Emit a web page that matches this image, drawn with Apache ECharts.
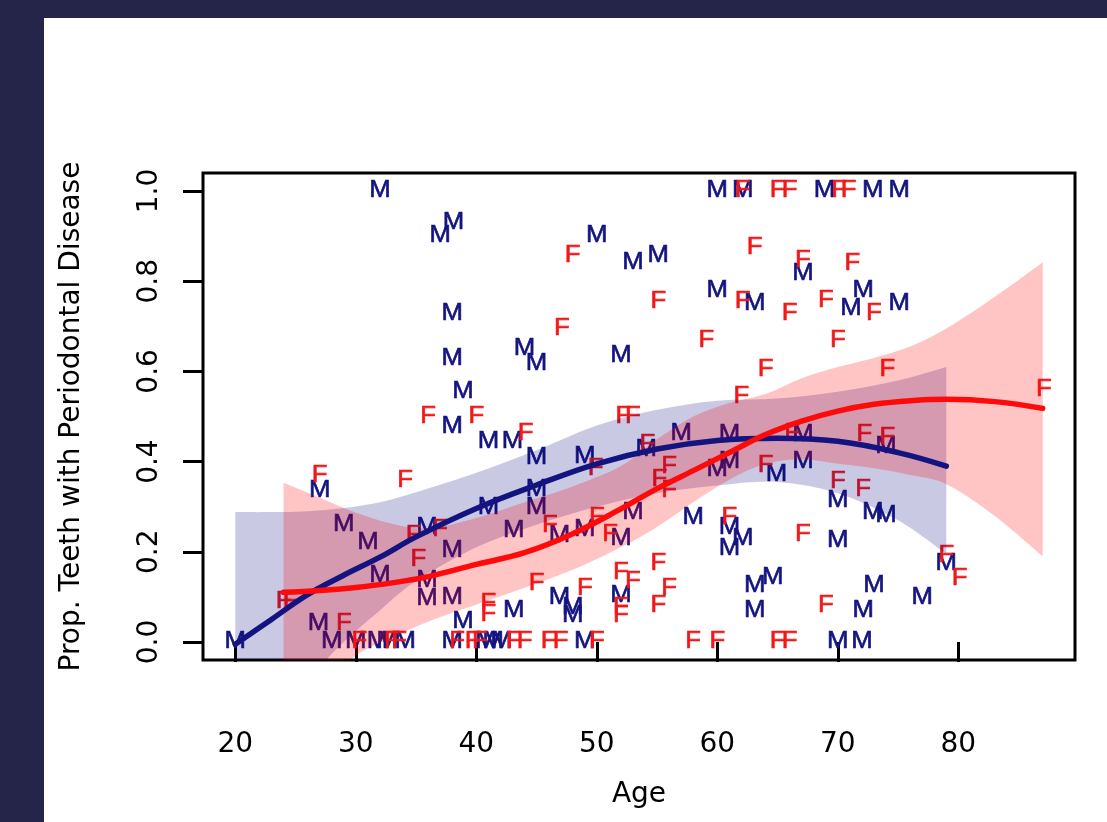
<!DOCTYPE html>
<html>
<head>
<meta charset="utf-8">
<title>Periodontal disease by age</title>
<script src="https://cdn.jsdelivr.net/npm/echarts@6/dist/echarts.min.js"></script>
<style>
  html, body { margin:0; padding:0; width:1107px; height:822px; overflow:hidden; background:#25254a; }
  #chart { position:absolute; left:44px; top:18px; width:1063px; height:804px; background:#fff; }
</style>
</head>
<body>
<div id="chart"></div>
<script>
(function(){
  'use strict';

  // tick labels
  var xTicks = [20, 30, 40, 50, 60, 70, 80];
  var yTicks = [0, 0.2, 0.4, 0.6, 0.8, 1.0];

  // observed proportions, males [age, prop]
  var maleObs = [
    [20,0],[28,0],[30,0],[31.8,0],[32.6,0],[34.1,0],[38,0],[40.8,0],[41.4,0],[42.1,0],[49,0],[70,0],[72,0],
    [32,1],[60,1],[62.1,1],[68.9,1],[72.9,1],[75.1,1],
    [38.1,0.93],[37,0.9],[50,0.9],[53,0.842],[55.1,0.857],
    [67.1,0.816],[60,0.779],[72.1,0.779],[63.1,0.75],[71.1,0.739],[75.1,0.75],
    [38,0.728],[44,0.651],[45,0.618],[38,0.629],[52,0.636],
    [38.9,0.555],[38,0.478],[41,0.445],[43,0.445],
    [57,0.463],[61,0.46],[67.1,0.46],[74,0.434],
    [45,0.408],[49,0.412],[54.1,0.426],[61,0.4],[60,0.382],[67.1,0.4],[64.9,0.371],
    [27,0.335],[41,0.298],[45,0.338],[45,0.298],[53,0.287],[58,0.276],[70,0.313],[72.9,0.287],[74,0.279],
    [29,0.261],[35.9,0.254],[31,0.221],[38,0.202],[43.1,0.246],[46.9,0.235],[49,0.25],[52,0.228],
    [61,0.254],[62.1,0.228],[61,0.206],[70,0.224],
    [32,0.147],[35.9,0.136],[35.9,0.096],[38,0.099],[26.9,0.04],[38.9,0.044],
    [43.1,0.07],[46.9,0.099],[48,0.077],[48,0.059],[52,0.103],
    [63.1,0.125],[63.1,0.07],[64.6,0.143],[73,0.125],[72.1,0.07],[77,0.099],[79,0.173]
  ];

  // observed proportions, females [age, prop]
  var femaleObs = [
    [30.3,0],[33,0],[33.6,0],[38.4,0],[39.7,0],[40.3,0],[43.1,0],[44,0],[46,0],[47,0],[50,0],[58,0],[60,0],[65,0],[66,0],
    [62.1,1],[65,1],[66,1],[70.1,1],[70.9,1],
    [48,0.857],[63.1,0.875],[67.1,0.846],[71.2,0.838],
    [55.1,0.754],[62.1,0.754],[69,0.757],[66,0.728],[73,0.728],
    [47.1,0.695],[59.1,0.669],[70,0.669],
    [64,0.603],[74.1,0.603],[87.1,0.559],[62,0.544],
    [36,0.5],[40,0.5],[52.2,0.5],[53,0.5],
    [44.1,0.463],[54.2,0.437],[66.2,0.463],[72.2,0.46],[74.1,0.454],
    [49.9,0.384],[56,0.388],[64,0.39],[55.2,0.36],[56,0.335],
    [27,0.368],[34.1,0.357],[70,0.355],[72.1,0.338],
    [50,0.276],[61,0.276],[37,0.25],[34.8,0.235],[46.1,0.257],[51.1,0.239],[67.1,0.239],
    [35.2,0.182],[79,0.191],[55.1,0.173],[52,0.154],[53,0.134],[80.1,0.14],
    [45,0.129],[49,0.118],[56,0.118],
    [24,0.09],[24.6,0.09],[41,0.085],[41,0.06],[52,0.077],[52,0.059],[55.1,0.081],[69,0.081],[29,0.04]
  ];

  // fitted curve and band, males
  var mAge   = [20, 23, 26, 29, 32, 35, 40, 45, 50, 55, 60, 65, 70, 75, 79];
  var mFit   = [-0.005, 0.05, 0.105, 0.148, 0.188, 0.233, 0.296, 0.348, 0.395, 0.428, 0.447, 0.452, 0.445, 0.42, 0.39];
  var mUpper = [0.288, 0.288, 0.29, 0.297, 0.31, 0.332, 0.375, 0.425, 0.48, 0.515, 0.535, 0.54, 0.555, 0.58, 0.61];
  var mLower = [-0.3, -0.19, -0.085, 0.0, 0.07, 0.135, 0.21, 0.26, 0.3, 0.33, 0.347, 0.355, 0.33, 0.27, 0.195];

  // fitted curve and band, females
  var fAge   = [24, 27, 30, 33, 36, 40, 44, 48, 52, 55, 58, 61, 64, 67, 70, 73, 76, 79, 83, 87];
  var fFit   = [0.11, 0.114, 0.121, 0.131, 0.145, 0.172, 0.198, 0.24, 0.295, 0.34, 0.38, 0.42, 0.46, 0.49, 0.512, 0.527, 0.535, 0.538, 0.533, 0.518];
  var fUpper = [0.353, 0.32, 0.287, 0.262, 0.252, 0.275, 0.31, 0.345, 0.39, 0.45, 0.5, 0.53, 0.55, 0.585, 0.61, 0.63, 0.655, 0.695, 0.765, 0.842];
  var fLower = [-0.2, -0.1, -0.03, 0.01, 0.045, 0.083, 0.12, 0.16, 0.21, 0.255, 0.31, 0.36, 0.395, 0.405, 0.395, 0.385, 0.37, 0.35, 0.28, 0.19];

  var NAVY = '#141480', RED = '#f01818';
  var AXIS_FONT = '"DejaVu Sans", sans-serif';

  function pairs(xs, ys){ return xs.map(function(x, i){ return [x, ys[i]]; }); }

  // catmull-rom through screen points, as cubic segments
  function curveTo(p){
    var s = '';
    for(var i = 0; i < p.length - 1; i++){
      var p0 = p[Math.max(i - 1, 0)], p1 = p[i], p2 = p[i + 1], p3 = p[Math.min(i + 2, p.length - 1)];
      s += ' C' + (p1[0] + (p2[0] - p0[0]) / 6) + ' ' + (p1[1] + (p2[1] - p0[1]) / 6) +
           ' ' + (p2[0] - (p3[0] - p1[0]) / 6) + ' ' + (p2[1] - (p3[1] - p1[1]) / 6) +
           ' ' + p2[0] + ' ' + p2[1];
    }
    return s;
  }

  function letters(name, pts, letter, color){
    return {
      type: 'custom', name: name, data: pts, silent: true,
      renderItem: function(params, api){
        var p = api.coord([api.value(0), api.value(1)]);
        return {
          type: 'text', x: p[0], y: p[1], scaleX: 1.12,
          style: { text: letter, fill: color, stroke: color, lineWidth: 0.6,
            font: '23px "Liberation Sans", sans-serif', align: 'center', verticalAlign: 'middle' }
        };
      }
    };
  }

  function band(ages, lower, upper, color){
    return {
      type: 'custom', data: [[ages[0], lower[0]]], clip: true, silent: true,
      renderItem: function(params, api){
        var up = ages.map(function(a, i){ return api.coord([a, upper[i]]); });
        var lo = ages.map(function(a, i){ return api.coord([a, lower[i]]); }).reverse();
        var d = 'M' + up[0][0] + ' ' + up[0][1] + curveTo(up) +
                ' L' + lo[0][0] + ' ' + lo[0][1] + curveTo(lo) + ' Z';
        return { type: 'path', shape: { pathData: d }, style: { fill: color } };
      }
    };
  }

  function fitLine(ages, vals, color){
    return { type: 'line', data: pairs(ages, vals), smooth: 0.4, symbol: 'none', silent: true,
      lineStyle: { color: color, width: 5.5, cap: 'round', join: 'round' } };
  }

  var series = [
    letters('M', maleObs, 'M', NAVY),
    letters('F', femaleObs, 'F', RED),
    band(mAge, mLower, mUpper, 'rgba(0,0,128,0.21)'),
    fitLine(mAge, mFit, NAVY),
    band(fAge, fLower, fUpper, 'rgba(255,0,0,0.23)'),
    fitLine(fAge, fFit, '#ff0a0a')
  ];

  var chart = echarts.init(document.getElementById('chart'));
  chart.setOption({
    animation: false,
    backgroundColor: '#fff',
    grid: { left: 159, right: 32, top: 155, bottom: 162, show: true, borderColor: '#000', borderWidth: 3,
      backgroundColor: 'transparent', outerBoundsMode: 'none' },
    xAxis: {
      type: 'value', min: 17.32, max: 89.68,
      name: 'Age', nameLocation: 'middle', nameGap: 135,
      nameTextStyle: { fontFamily: AXIS_FONT, fontSize: 28, color: '#000', align: 'center', verticalAlign: 'middle' },
      axisLine: { show: false }, splitLine: { show: false },
      axisTick: { show: true, customValues: xTicks, length: 20, lineStyle: { color: '#000', width: 3 } },
      axisLabel: { customValues: xTicks, margin: 85, fontFamily: AXIS_FONT, fontSize: 28, color: '#000', verticalAlign: 'middle' }
    },
    yAxis: {
      type: 'value', min: -0.04, max: 1.04,
      name: 'Prop. Teeth with Periodontal Disease', nameLocation: 'middle', nameGap: 131, nameRotate: 90,
      nameTextStyle: { fontFamily: AXIS_FONT, fontSize: 28, color: '#000', align: 'center', verticalAlign: 'middle' },
      axisLine: { show: false }, splitLine: { show: false },
      axisTick: { show: true, customValues: yTicks, length: 20, lineStyle: { color: '#000', width: 3 } },
      axisLabel: { customValues: yTicks, rotate: 90, margin: 53, align: 'center', verticalAlign: 'middle',
        fontFamily: AXIS_FONT, fontSize: 28, color: '#000',
        formatter: function(v){ return v.toFixed(1); } }
    },
    series: series
  });
})();
</script>
</body>
</html>
